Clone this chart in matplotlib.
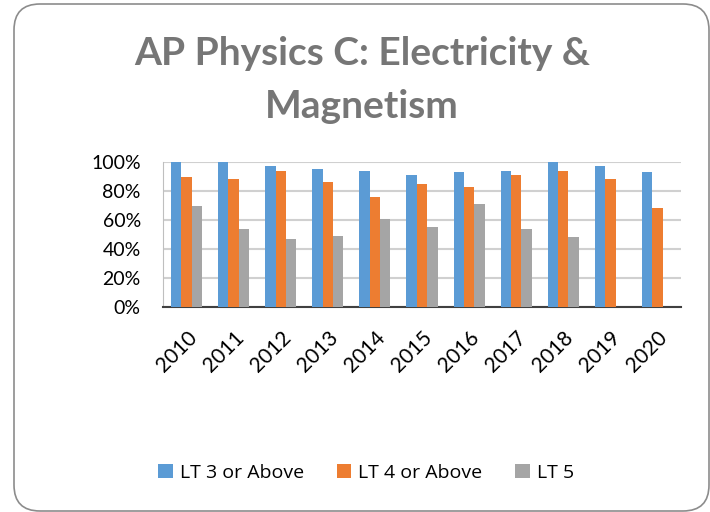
import numpy as np
import matplotlib
matplotlib.use("Agg")
import matplotlib.pyplot as plt
from matplotlib.patches import FancyBboxPatch
from matplotlib.ticker import PercentFormatter

years = ["2010", "2011", "2012", "2013", "2014", "2015",
         "2016", "2017", "2018", "2019", "2020"]
lt3 = [100, 100, 97, 95, 94, 91, 93, 94, 100, 97, 93]
lt4 = [90, 88, 94, 86, 76, 85, 83, 91, 94, 88, 68]
lt5 = [70, 54, 47, 49, 61, 55, 71, 54, 48, np.nan, np.nan]

fig = plt.figure(figsize=(7.1, 5.12), dpi=100)

# rounded border around the chart
border = FancyBboxPatch((0.14, 0.01), 6.95, 5.07,
                        boxstyle="round,pad=0,rounding_size=0.26",
                        transform=fig.dpi_scale_trans, zorder=-1,
                        facecolor="none", edgecolor="#8c8c8c", linewidth=1.2)
fig.patches.append(border)

ax = fig.add_axes([163 / 710, 1 - 307 / 512, 518 / 710, 145 / 512])
ax.set_facecolor("none")

x = np.arange(len(years))
w = 0.22
ax.bar(x - w, lt3, w, color="#5b9bd5", label="LT 3 or Above", zorder=3)
ax.bar(x, lt4, w, color="#ed7d31", label="LT 4 or Above", zorder=3)
ax.bar(x + w, lt5, w, color="#a5a5a5", label="LT 5", zorder=3)

ax.set_xlim(-0.5, len(years) - 0.5)
ax.set_ylim(0, 100)
ax.set_yticks(np.arange(0, 101, 20))
ax.yaxis.set_major_formatter(PercentFormatter(decimals=0))
ax.grid(axis="y", color="#d0d0d0", linewidth=1.5, zorder=0)

ax.set_xticks(x)
ax.set_xticklabels(years, rotation=45, ha="right", rotation_mode="anchor")
ax.tick_params(axis="both", length=0, labelcolor="black")
ax.tick_params(axis="x", pad=15, labelsize=15)
ax.tick_params(axis="y", pad=16, labelsize=14)
for lab in ax.get_xticklabels() + ax.get_yticklabels():
    lab.set_family("Lato")

for s in ["top", "right"]:
    ax.spines[s].set_visible(False)
ax.spines["left"].set_color("#bfbfbf")
ax.spines["bottom"].set_color("#404040")
ax.spines["bottom"].set_linewidth(1.5)

fig.text(362 / 710, 1 - 80 / 512, "AP Physics C: Electricity &\nMagnetism",
         ha="center", va="center", fontsize=28, fontweight="bold",
         family="Lato", color="#767676", linespacing=1.65)

fig.legend(loc="center", bbox_to_anchor=(366 / 710, 1 - 473 / 512), ncol=3,
           frameon=False, handlelength=0.75, handleheight=0.75,
           handletextpad=0.35, columnspacing=1.7,
           prop={"family": "Open Sans", "size": 14})

fig.savefig("out.png", dpi=100)
